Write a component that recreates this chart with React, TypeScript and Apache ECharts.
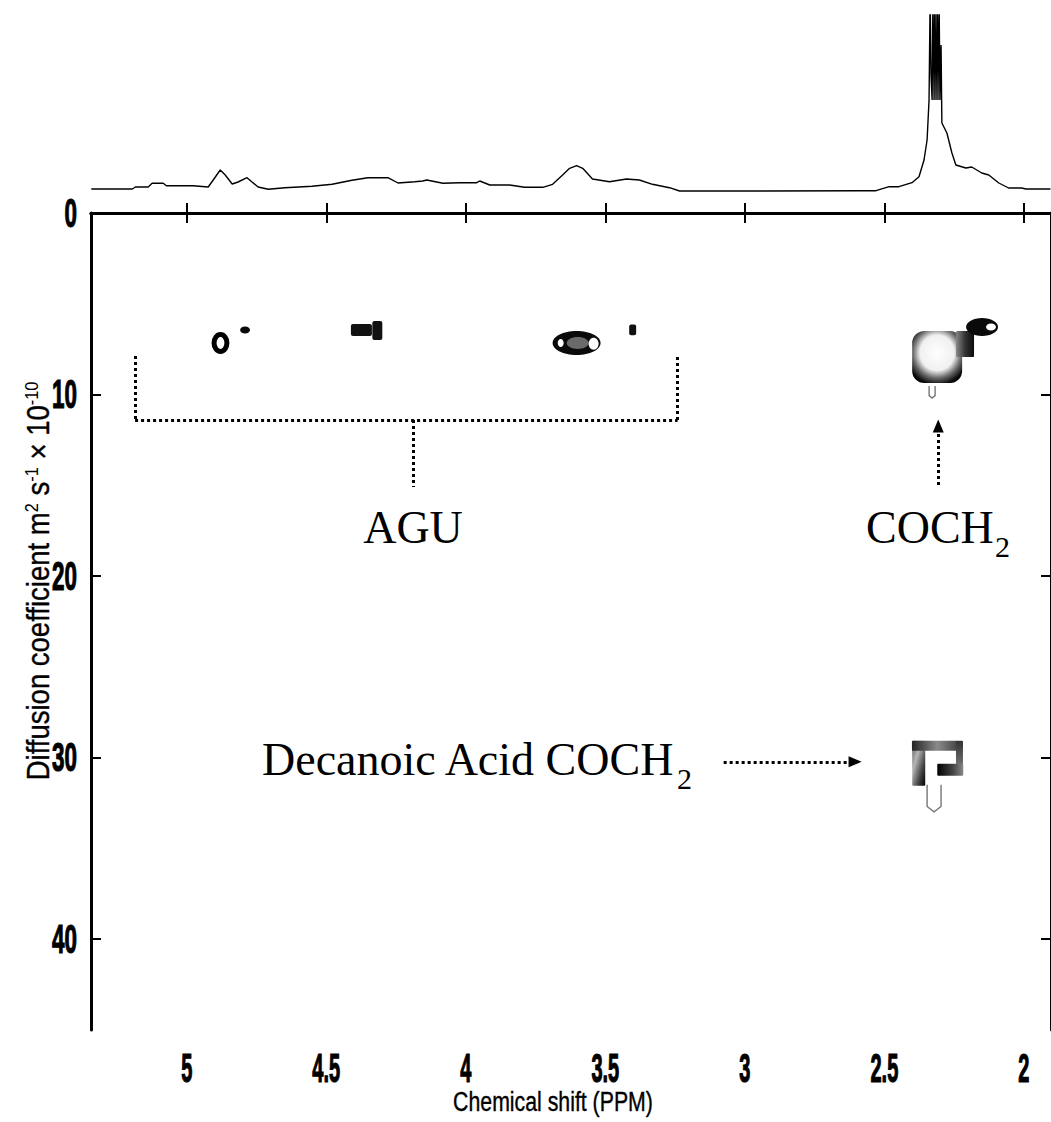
import React, { useEffect, useRef } from "react";
import * as echarts from "echarts";

// ---------- 1D spectrum (top trace) ----------
const specPpm = [
  5.342, 5.195, 5.184, 5.138, 5.124, 5.084, 5.073, 4.977, 4.923, 4.905, 4.88, 4.862, 4.837, 4.816, 4.784, 4.766,
  4.744, 4.708, 4.648, 4.551, 4.479, 4.408, 4.351, 4.279, 4.243, 4.183, 4.154, 4.14, 4.082, 4.021, 3.961, 3.95,
  3.914, 3.843, 3.789, 3.724, 3.689, 3.653, 3.628, 3.603, 3.581, 3.546, 3.485, 3.424, 3.378, 3.331, 3.27, 3.234,
  3.02, 2.591, 2.53, 2.483, 2.448, 2.401, 2.376, 2.358, 2.347, 2.34, 2.336, 2.333, 2.329, 2.326, 2.322, 2.319,
  2.315, 2.311, 2.308, 2.304, 2.301, 2.297, 2.294, 2.276, 2.258, 2.244, 2.208, 2.187, 2.151, 2.126, 2.09, 2.055,
  2.008, 1.993, 1.905,
];
const specVal = [
  6, 6, 8, 8, 11.7, 11.7, 9.3, 9.3, 8, 15, 25, 20, 11, 13, 17.3, 13,
  8, 5.7, 7.3, 8.7, 10.7, 14.7, 17.3, 17.3, 12, 13.3, 14, 15, 11.7, 12.3, 12.3, 14,
  10, 10, 7.7, 7.7, 10.7, 20, 26.7, 29.3, 26.7, 16, 13.3, 16, 15, 10.7, 7.3, 4,
  4, 4.3, 4.3, 8.3, 8.3, 12.3, 18.3, 35, 55, 95, 200, 120, 95, 200, 95, 200,
  95, 200, 95, 200, 95, 150, 72, 62, 42, 30, 27, 28, 22, 20, 12, 7,
  7, 6, 6,
];

// ---------- axes ----------
const xTickValues = [5, 4.5, 4, 3.5, 3, 2.5, 2];
const xTickLabels = ["5", "4.5", "4", "3.5", "3", "2.5", "2"];
const yTickValues = [0, 10, 20, 30, 40];
const yTickLabels = ["0", "10", "20", "30", "40"];
const X_MIN = 1.903;
const X_MAX = 5.343;
const Y_MIN = 0;
const Y_MAX = 45;
const SPEC_MAX = 180;

// ---------- DOSY contour blobs (centre ppm, centre D, half-width ppm, half-height D, kind) ----------
const blobPpm = [4.879, 4.791, 4.374, 4.317, 3.603, 3.599, 3.66, 3.542, 3.402,
  2.311, 2.211, 2.15, 2.118, 2.329,
  2.377, 2.31, 2.231, 2.264, 2.322];
const blobD = [7.16, 6.44, 6.44, 6.47, 7.16, 7.16, 7.16, 7.2, 6.44,
  7.93, 7.21, 6.28, 6.28, 9.86,
  30.31, 29.35, 29.82, 30.67, 32.24];
const blobRx = [0.032, 0.0179, 0.0376, 0.0179, 0.0859, 0.0394, 0.0107, 0.0179, 0.0125,
  0.0895, 0.0322, 0.0573, 0.0179, 0.0107,
  0.0233, 0.0913, 0.0125, 0.0465, 0.025];
const blobRy = [0.6, 0.193, 0.33, 0.523, 0.661, 0.33, 0.22, 0.33, 0.3,
  1.43, 0.716, 0.496, 0.193, 0.33,
  1.239, 0.275, 0.743, 0.33, 0.743];
const blobKind = [0, 1, 2, 2, 1, 3, 4, 4, 2,
  5, 6, 1, 4, 7,
  8, 9, 11, 10, 7];

// ---------- annotation guide lines (data coordinates) ----------
const annoFrom = [[5.185, 7.87], [5.185, 11.4], [3.241, 11.4], [4.19, 11.4], [2.307, 14.98], [3.076, 30.23]];
const annoTo = [[5.185, 11.4], [3.241, 11.4], [3.241, 7.87], [4.19, 15.09], [2.307, 11.73], [2.605, 30.23]];
const annoArrow = [false, false, false, false, true, true];

const SANS = '"Liberation Sans", Arial, Helvetica, sans-serif';
const SERIF = '"Liberation Serif", "Times New Roman", Times, serif';

function lin(x2: number, y2: number, stops: [number, string][]) {
  return new echarts.graphic.LinearGradient(0, 0, x2, y2, stops.map(([o, c]) => ({ offset: o, color: c })));
}

function blobShape(kind: number, cx: number, cy: number, rx: number, ry: number): any {
  const ell = (style: any) => ({ type: "ellipse", shape: { cx, cy, rx, ry }, style });
  const rect = (style: any, r = 2) => ({ type: "rect", shape: { x: cx - rx, y: cy - ry, width: 2 * rx, height: 2 * ry, r }, style });
  switch (kind) {
    case 0:
      return { type: "ellipse", shape: { cx, cy, rx: rx - 2.5, ry: ry - 2.5 }, style: { fill: "#fff", stroke: "#000", lineWidth: 5 } };
    case 1:
      return ell({ fill: "#0a0a0a" });
    case 2:
      return rect({ fill: "#111" });
    case 3:
      return ell({ fill: "#6a6a6a" });
    case 4:
      return ell({ fill: "#fff" });
    case 5:
      return rect({
        fill: new echarts.graphic.RadialGradient(0.5, 0.42, 0.62, [
          { offset: 0, color: "#ffffff" },
          { offset: 0.55, color: "#f0f0f0" },
          { offset: 0.78, color: "#6a6a6a" },
          { offset: 1, color: "#080808" },
        ]),
      }, 12);
    case 6:
      return rect({ fill: lin(1, 0, [[0, "#888"], [0.5, "#333"], [1, "#0a0a0a"]]) }, 1);
    case 7:
      return {
        type: "polyline",
        shape: { points: [[cx - rx, cy - ry], [cx - rx, cy + ry * 0.6], [cx, cy + ry], [cx + rx, cy + ry * 0.6], [cx + rx, cy - ry]] },
        style: { fill: "none", stroke: "#777", lineWidth: 1.4 },
      };
    case 8:
      return rect({ fill: lin(1, 1, [[0, "#555"], [0.35, "#b5b5b5"], [0.7, "#444"], [1, "#000"]]) }, 1);
    case 9:
      return rect({ fill: lin(1, 0, [[0, "#222"], [0.5, "#8a8a8a"], [1, "#333"]]) }, 1);
    case 10:
      return rect({ fill: lin(1, 0, [[0, "#000"], [0.6, "#444"], [1, "#888"]]) }, 1);
    case 11:
      return rect({ fill: lin(0, 1, [[0, "#333"], [1, "#777"]]) }, 1);
    default:
      return ell({ fill: "#000" });
  }
}

export default function App() {
  const ref = useRef<HTMLDivElement>(null);

  useEffect(() => {
    document.body.style.margin = "0";
    const chart = echarts.init(ref.current!, null, { renderer: "svg" });

    const axisLine = { show: true, lineStyle: { color: "#000", width: 3 } };
    const axisTick = (vals: number[]) => ({ show: true, inside: true, length: 10, lineStyle: { color: "#000", width: 2 }, customValues: vals });

    const blobData = blobPpm.map((p, i) => [p, blobD[i], blobRx[i], blobRy[i], blobKind[i]]);

    const option: any = {
      animation: false,
      backgroundColor: "#fff",
      grid: [
        { left: 91, top: 213, width: 961, height: 817, containLabel: false },
        { left: 91, top: 15, width: 961, height: 180, containLabel: false },
      ],
      xAxis: [
        {
          gridIndex: 0, type: "value", min: X_MIN, max: X_MAX, inverse: true, position: "bottom",
          axisLine, axisTick: axisTick(xTickValues), axisLabel: { show: false, customValues: xTickValues }, splitLine: { show: false },
        },
        {
          gridIndex: 0, type: "value", min: X_MIN, max: X_MAX, inverse: true, position: "top",
          axisLine, axisTick: axisTick(xTickValues), axisLabel: { show: false, customValues: xTickValues }, splitLine: { show: false },
        },
        { gridIndex: 1, type: "value", min: X_MIN, max: X_MAX, inverse: true, show: false },
      ],
      yAxis: [
        {
          gridIndex: 0, type: "value", min: Y_MIN, max: Y_MAX, inverse: true, position: "left",
          axisLine, axisTick: axisTick(yTickValues), axisLabel: { show: false, customValues: yTickValues }, splitLine: { show: false },
        },
        {
          gridIndex: 0, type: "value", min: Y_MIN, max: Y_MAX, inverse: true, position: "right",
          axisLine, axisTick: axisTick(yTickValues), axisLabel: { show: false, customValues: yTickValues }, splitLine: { show: false },
        },
        { gridIndex: 1, type: "value", min: 0, max: SPEC_MAX, show: false },
      ],
      series: [
        {
          type: "line",
          xAxisIndex: 2,
          yAxisIndex: 2,
          data: specPpm.map((p, i) => [p, specVal[i]]),
          showSymbol: false,
          symbol: "none",
          clip: true,
          lineStyle: { color: "#000", width: 1.4 },
          silent: true,
        },
        {
          type: "custom",
          xAxisIndex: 0,
          yAxisIndex: 0,
          data: blobData,
          encode: { x: 0, y: 1 },
          silent: true,
          renderItem: (_params: any, api: any) => {
            const c = api.coord([api.value(0), api.value(1)]);
            const s = api.size([api.value(2), api.value(3)]);
            return blobShape(api.value(4), c[0], c[1], Math.abs(s[0]), Math.abs(s[1]));
          },
          markLine: {
            silent: true,
            animation: false,
            symbol: ["none", "none"],
            label: { show: false },
            emphasis: { disabled: true },
            lineStyle: { color: "#000", width: 3, type: [3, 3], opacity: 1 },
            data: annoFrom.map((f, i) => [
              { coord: f, symbol: "none" },
              { coord: annoTo[i], symbol: annoArrow[i] ? "triangle" : "none", symbolSize: [11, 13] },
            ]),
          },
        },
      ],
    };

    chart.setOption(option);

    const xPix = xTickValues.map((v) => chart.convertToPixel({ xAxisIndex: 0 }, v) as number);
    const yPix = yTickValues.map((v) => chart.convertToPixel({ yAxisIndex: 0 }, v) as number);
    const bottomY = chart.convertToPixel({ yAxisIndex: 0 }, Y_MAX) as number;
    const leftX = chart.convertToPixel({ xAxisIndex: 0 }, X_MAX) as number;

    const tickStyle = (t: string, align: string) => ({
      text: t, fill: "#000", stroke: "#000", lineWidth: 1.2, fontFamily: SANS, fontWeight: "bold", fontSize: 40,
      textAlign: align, textVerticalAlign: "middle",
    });
    const graphic: any[] = [];
    xTickLabels.forEach((t, i) => {
      graphic.push({ type: "text", x: xPix[i], y: bottomY + 38, scaleX: 0.5, silent: true, style: tickStyle(t, "center") });
    });
    yTickLabels.forEach((t, i) => {
      graphic.push({ type: "text", x: leftX - 14, y: yPix[i], scaleX: 0.56, silent: true, style: tickStyle(t, "right") });
    });
    graphic.push({
      type: "text", x: 553, y: 1101, scaleX: 0.76, silent: true,
      style: { text: "Chemical shift (PPM)", fill: "#000", stroke: "#000", lineWidth: 0.4, fontFamily: SANS, fontSize: 28, textAlign: "center", textVerticalAlign: "middle" },
    });
    graphic.push({
      type: "text", x: 38, y: 581, rotation: Math.PI / 2, scaleX: 0.86, silent: true,
      style: {
        text: "{a|Diffusion coefficient m}{s|2}{a| s}{s|-1}{a| × 10}{s|-10}",
        fill: "#000", fontFamily: SANS, fontSize: 32, textAlign: "center", textVerticalAlign: "middle",
        rich: {
          a: { fontSize: 32, fontFamily: SANS, fill: "#000", stroke: "#000", lineWidth: 0.4, lineHeight: 32 },
          s: { fontSize: 19, fontFamily: SANS, fill: "#000", lineHeight: 6, verticalAlign: "top" },
        },
      },
    });
    const serif = (text: string, x: number, y: number, size: number, align: string) => ({
      type: "text", x, y, silent: true,
      style: { text, fill: "#000", fontFamily: SERIF, fontSize: size, textAlign: align, textVerticalAlign: "middle" },
    });
    graphic.push(serif("AGU", 413, 527, 46, "center"));
    graphic.push(serif("COCH", 866, 527, 46, "left"));
    graphic.push(serif("2", 995, 546, 30, "left"));
    graphic.push(serif("Decanoic Acid COCH", 262, 759, 46, "left"));
    graphic.push(serif("2", 677, 778, 30, "left"));

    chart.setOption({ graphic });

    return () => chart.dispose();
  }, []);

  return <div ref={ref} style={{ width: 1051, height: 1122, background: "#fff" }} />;
}
